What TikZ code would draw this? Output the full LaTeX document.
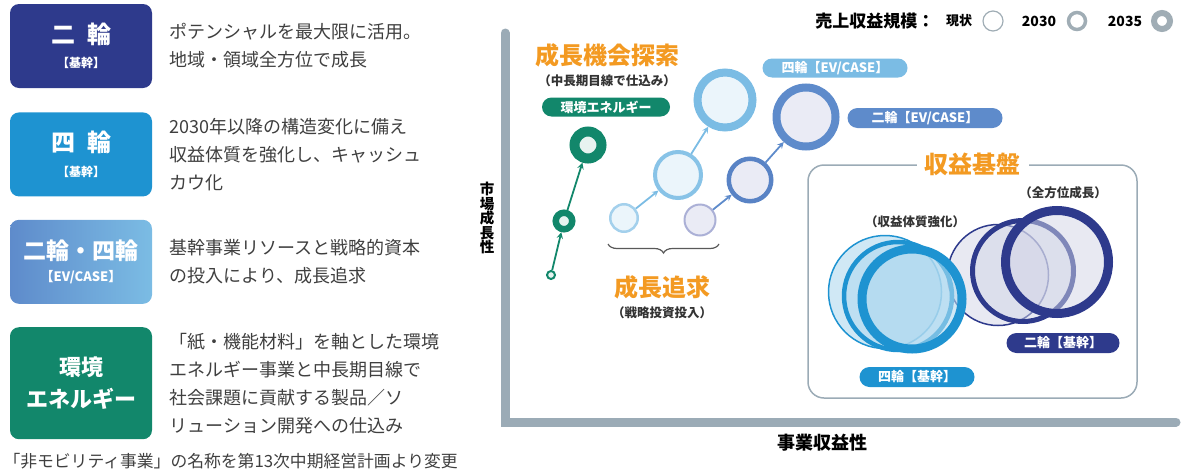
\documentclass[tikz,border=0pt]{standalone}
\usepackage{fontspec}
\setmainfont{Noto Sans CJK JP}
\usepackage{tikz}
\usetikzlibrary{positioning, arrows, shapes, decorations.pathreplacing}

\definecolor{navy}{HTML}{2E3A8C}
\definecolor{skyblue}{HTML}{1E93D1}
\definecolor{evlight}{HTML}{7BBCE4}
\definecolor{evdark}{HTML}{5E8BCB}
\definecolor{evsmall}{HTML}{ABB0D6}
\definecolor{envgreen}{HTML}{12876B}
\definecolor{orangelbl}{HTML}{F39A22}
\definecolor{axisgray}{HTML}{9BABB6}
\definecolor{desc}{HTML}{3F3F3F}
\definecolor{ringgray}{HTML}{A0ADB5}

\tikzstyle{leftbox} = [rectangle, rounded corners=9pt, minimum width=142pt, minimum height=84pt, text centered, align=center, text=white, font=\bfseries]
\tikzstyle{desctext} = [align=left, text=desc, font=\fontsize{18}{28}\selectfont]
\tikzstyle{pill} = [rounded rectangle, minimum height=19pt, inner sep=0pt, text=white, font=\fontsize{13}{13}\selectfont\bfseries]
\tikzstyle{bigtitle} = [text=orangelbl, font=\fontsize{24}{26}\selectfont\bfseries]
\tikzstyle{subnote} = [text=black!80, font=\fontsize{12.5}{14}\selectfont\bfseries]
\tikzstyle{ring} = [circle, draw, inner sep=0pt]
\tikzstyle{growarrow} = [line width=1.8pt,->,>=stealth]

\begin{document}
\begin{tikzpicture}[x=1pt, y=-1pt]
\useasboundingbox (0,0) rectangle (1182,474);

\node (nirin) [leftbox, fill=navy] at (81,46) {{\fontsize{24}{24}\selectfont 二\hspace{.5em}輪}\\[11pt]{\fontsize{12}{12}\selectfont 【基幹】}};
\node (yonrin) [leftbox, fill=skyblue, below=24pt of nirin] {{\fontsize{24}{24}\selectfont 四\hspace{.5em}輪}\\[12pt]{\fontsize{12}{12}\selectfont 【基幹】}};
\node (evcase) [leftbox, left color=evdark, right color=evlight, below=23pt of yonrin] {{\fontsize{23}{23}\selectfont 二輪・四輪}\\[8pt]{\fontsize{13}{13}\selectfont 【EV/CASE】}};
\node (kankyo) [leftbox, fill=envgreen, minimum height=112pt, below=23pt of evcase] {{\fontsize{22}{22}\selectfont 環境}\\[9pt]{\fontsize{22}{22}\selectfont エネルギー}};

\node (nirindesc) [desctext, right=14pt of nirin] {ポテンシャルを最大限に活用。\\地域・領域全方位で成長};
\node (yonrindesc) [desctext, right=14pt of yonrin] {2030年以降の構造変化に備え\\収益体質を強化し、キャッシュ\\カウ化};
\node (evcasedesc) [desctext, right=14pt of evcase] {基幹事業リソースと戦略的資本\\の投入により、成長追求};
\node (kankyodesc) [desctext, right=14pt of kankyo] {「紙・機能材料」を軸とした環境\\エネルギー事業と中長期目線で\\社会課題に貢献する製品／ソ\\リューション開発への仕込み};
\node (footnote) [anchor=west, text=desc, font=\fontsize{16.8}{18}\selectfont] at (0,461) {「非モビリティ事業」の名称を第13次中期経営計画より変更};

\coordinate (ytop) at (505,33);
\coordinate (origin) at (505,422);
\coordinate (xend) at (1176,422);
\draw [axisgray, line width=9pt, line cap=round] (ytop) -- (origin) -- (xend);
\node (ylabel) [align=center, font=\fontsize{14.5}{14.5}\selectfont\bfseries] at (487,218) {市\\場\\成\\長\\性};
\node (xlabel) [font=\fontsize{18}{18}\selectfont\bfseries] at (822,443) {事業収益性};

\node (lgtitle) [anchor=east, font=\fontsize{17}{17}\selectfont\bfseries] at (938,21) {売上収益規模：};
\node (lgnow) [font=\fontsize{13}{14}\selectfont\bfseries] at (959,21) {現状};
\node (lgc1) [ring, ringgray, line width=1.2pt, minimum size=20pt] at (993,21) {};
\node (lg2030) [font=\fontsize{14}{14}\selectfont\bfseries] at (1039,21) {2030};
\node (lgc2) [ring, ringgray, line width=3.5pt, minimum size=17pt] at (1077,21) {};
\node (lg2035) [font=\fontsize{14}{14}\selectfont\bfseries] at (1125,21) {2035};
\node (lgc3) [ring, ringgray, line width=6pt, minimum size=16pt] at (1162,21) {};

\node (explore) [bigtitle] at (607,55) {成長機会探索};
\node (explorenote) [subnote, below=1pt of explore] {（中長期目線で仕込み）};
\node (envpill) [pill, fill=envgreen, minimum width=128pt] at (606,107) {環境エネルギー};

\node (g1) [ring, envgreen, fill=envgreen!10, line width=2pt, minimum size=8pt] at (551,275) {};
\node (g2) [ring, envgreen, fill=envgreen!10, line width=6.5pt, minimum size=16.5pt] at (564,221) {};
\node (g3) [ring, envgreen, fill=envgreen!10, line width=10pt, minimum size=27pt] at (588,145) {};
\draw [growarrow, envgreen] (g1) -- (g2);
\draw [growarrow, envgreen] (g2) -- (g3);

\node (a1) [ring, evlight!70, fill=evlight!15, line width=2.5pt, minimum size=27.5pt] at (624,218) {};
\node (a2) [ring, evlight!90, fill=evlight!15, line width=4pt, minimum size=46pt] at (678,175) {};
\node (a3) [ring, evlight, fill=evlight!15, line width=8pt, minimum size=55pt] at (725,100) {};
\draw [growarrow, evlight] (a1) -- (a2);
\draw [growarrow, evlight] (a2) -- (a3);

\node (b1) [ring, evsmall, fill=evsmall!25, line width=2pt, minimum size=31pt] at (700,220) {};
\node (b2) [ring, evdark!90!navy, fill=evsmall!25, line width=4.5pt, minimum size=42.5pt] at (750,180) {};
\node (b3) [ring, evdark, fill=evsmall!25, line width=8pt, minimum size=59pt] at (806,117) {};
\draw [growarrow, evdark] (b1) -- (b2);
\draw [growarrow, evdark] (b2) -- (b3);

\node (ev4pill) [pill, fill=evlight, minimum width=145pt] at (835,68) {四輪【EV/CASE】};
\node (ev2pill) [pill, fill=evdark, minimum width=155pt, minimum height=20pt] at (925,118) {二輪【EV/CASE】};

\coordinate (braceL) at (608,244);
\coordinate (braceR) at (719,244);
\draw [black!65, line width=1.2pt, decorate, decoration={brace, mirror, amplitude=9pt}] (braceL) -- (braceR);
\node (pursue) [bigtitle] at (662,287) {成長追求};
\node (pursuenote) [subnote, below=1pt of pursue] {（戦略投資投入）};

\node (kiban) [draw=axisgray, line width=1.5pt, rounded corners=16pt, minimum width=329pt, minimum height=233pt] at (972.5,281.5) {};
\node (kibantitle) [bigtitle, fill=white, inner xsep=8pt] at (kiban.north) {収益基盤};
\node (allround) [subnote] at (1063,193) {（全方位成長）};
\node (strength) [subnote] at (915,222) {（収益体質強化）};

\node (c2a) [ring, navy, fill=navy!22, fill opacity=.5, line width=1.5pt, minimum size=101pt] at (998,275) {};
\node (c2b) [ring, navy, fill=navy!22, fill opacity=.5, line width=5pt, minimum size=101pt] at (1023,271) {};
\node (c2c) [ring, navy, fill=navy!22, fill opacity=.5, line width=9pt, minimum size=103pt] at (1057,262) {};
\node (c4a) [ring, skyblue, fill=skyblue!35, fill opacity=.6, line width=1.5pt, minimum size=113pt] at (885,292) {};
\node (c4b) [ring, skyblue, fill=skyblue!35, fill opacity=.6, line width=4.5pt, minimum size=108pt] at (898,296) {};
\node (c4c) [ring, skyblue, fill=skyblue!35, fill opacity=.6, line width=9pt, minimum size=100pt] at (912,299) {};

\node (kikan2pill) [pill, fill=navy, minimum width=113pt, minimum height=20pt] at (1063,343) {二輪【基幹】};
\node (kikan4pill) [pill, fill=skyblue, minimum width=115pt, minimum height=20pt] at (917,377) {四輪【基幹】};

\end{tikzpicture}
\end{document}
